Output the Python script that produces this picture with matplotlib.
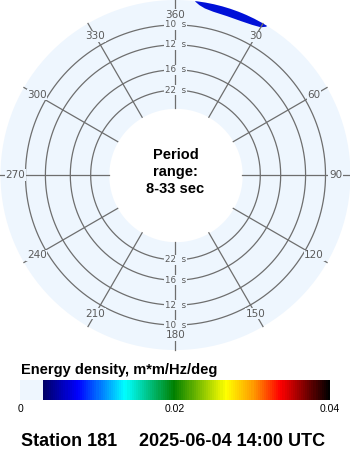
import numpy as np
import matplotlib
matplotlib.use("Agg")
import matplotlib.pyplot as plt
from matplotlib.colors import LinearSegmentedColormap, Normalize
from matplotlib.cm import ScalarMappable

# ---- data ------------------------------------------------------------
DIRECTIONS = [0, 30, 60, 90, 120, 150, 180, 210, 240, 270, 300, 330]
DIR_LABELS = ["360", "30", "60", "90", "120", "150", "180", "210", "240",
              "270", "300", "330"]
RING_PERIODS = [10, 12, 16, 22]          # sec
PERIOD_MIN, PERIOD_MAX = 8, 33           # sec

# energy patch near the outer edge (direction deg, inner edge in Hz)
BLOB_DIR = [6.5, 8.0, 10.0, 13.0, 18.0, 23.0, 27.0, 30.0, 31.5]
BLOB_F_INNER = [0.1205, 0.1180, 0.1160, 0.1147, 0.1142, 0.1144, 0.1155,
                0.1172, 0.1200]

CBAR_MAX = 0.04
CBAR_THRESHOLD = 0.0027                  # below this: background colour
CBAR_TICKS = [0, 0.02, 0.04]
CBAR_TICKLABELS = ["0", "0.02", "0.04"]

STATION = "Station 181"
STAMP = "2025-06-04 14:00 UTC"

# ---- style -------------------------------------------------------------
DISK = "#eef6fe"
GRID = "#6e6e6e"
LABEL = "#5a5a5a"
BLOB = "#0010d8"
BOLD = dict(family="Liberation Sans", fontweight="bold", color="black")

# radial axis is frequency; origin offset so that 10 s sits at ~150 px
F_ORIGIN = -0.0255
F_INNER = 1.0 / PERIOD_MAX
F_OUTER = 0.1209

fig = plt.figure(figsize=(3.5, 4.5), dpi=100)
fig.patch.set_facecolor("white")

ax = fig.add_axes([0.0014, 0.2222, 1.0, 0.7778], projection="polar")
ax.set_theta_zero_location("N")
ax.set_theta_direction(-1)
ax.set_rlim(F_ORIGIN, F_OUTER)
ax.set_facecolor(DISK)
ax.grid(False)
ax.set_xticks([])
ax.set_yticks([])
for sp in ax.spines.values():
    sp.set_visible(False)

full = np.linspace(0, 2 * np.pi, 361)

# white centre (periods longer than the range)
ax.fill_between(full, F_ORIGIN, F_INNER, color="white", lw=0, zorder=1)

# energy patch
th = np.radians(BLOB_DIR)
ax.fill(np.concatenate([th, th[::-1]]),
        np.concatenate([BLOB_F_INNER, [F_OUTER + 0.01] * len(th)]),
        color=BLOB, lw=0, zorder=2)

# period rings
for p in RING_PERIODS:
    ax.plot(full, np.full_like(full, 1.0 / p), color=GRID, lw=0.9, zorder=3)
    for t in (0, np.pi):
        ax.text(t, 1.0 / p, f"{p}  s", fontsize=6.3, color=LABEL,
                ha="center", va="center", zorder=5,
                bbox=dict(facecolor=DISK, edgecolor="none", pad=0.5))

# direction spokes + labels
for d, lab in zip(DIRECTIONS, DIR_LABELS):
    t = np.radians(d)
    ax.plot([t, t], [F_INNER, F_OUTER], color=GRID, lw=0.9, zorder=3,
            clip_on=False)
    ax.text(t, 0.1084, lab, fontsize=7.5, color=LABEL, ha="center",
            va="center", zorder=5, clip_on=False,
            bbox=dict(facecolor=DISK, edgecolor="none", pad=0.4))

fig.text(175.5 / 350, 1 - 172 / 450,
         f"Period\nrange:\n{PERIOD_MIN}-{PERIOD_MAX} sec",
         ha="center", va="center", fontsize=10.5, linespacing=1.3,
         multialignment="center", **BOLD)

# ---- colour bar --------------------------------------------------------
t0 = CBAR_THRESHOLD / CBAR_MAX
stops = [
    (0.0, DISK), (t0, DISK), (t0 + 0.001, "#000060"),
    (0.185, "#0000ff"), (0.338, "#00ffff"), (0.497, "#008000"),
    (0.665, "#ffff00"), (0.75, "#ffa000"), (0.842, "#ff0000"),
    (1.0, "#000000"),
]
cmap = LinearSegmentedColormap.from_list("energy", stops, N=150)
cax = fig.add_axes([20 / 350, 50 / 450, 310 / 350, 20 / 450])
cb = fig.colorbar(ScalarMappable(Normalize(0, CBAR_MAX), cmap), cax=cax,
                  orientation="horizontal")
cb.outline.set_visible(False)
cb.set_ticks(CBAR_TICKS)
cb.set_ticklabels(CBAR_TICKLABELS)
cax.tick_params(length=0, pad=3, labelsize=7.5)
for tl in cax.get_xticklabels():
    tl.set_family("Liberation Sans")

fig.text(21 / 350, 1 - 374 / 450, "Energy density, m*m/Hz/deg",
         ha="left", va="baseline", fontsize=10.5, **BOLD)
fig.text(21 / 350, 1 - 446 / 450, STATION, ha="left", va="baseline",
         fontsize=13, **BOLD)
fig.text(139 / 350, 1 - 446 / 450, STAMP, ha="left", va="baseline",
         fontsize=13, **BOLD)

fig.savefig("out.png", dpi=100)
